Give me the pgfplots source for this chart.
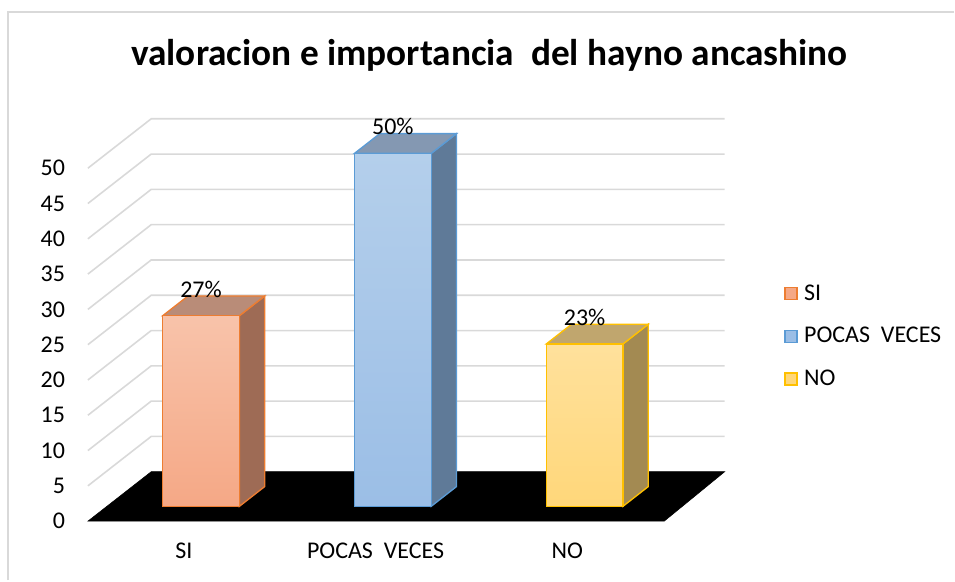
\documentclass[border=0pt]{standalone}
\usepackage{fontspec}
\setmainfont{Carlito}
\usepackage{pgfplots}
\pgfplotsset{compat=1.18}

\definecolor{gridc}{HTML}{D9D9D9}
\definecolor{siedge}{HTML}{ED7D31}
\definecolor{sitop}{HTML}{F8C3AA}
\definecolor{sibot}{HTML}{F5A886}
\definecolor{siside}{HTML}{9E6B55}
\definecolor{sicap}{HTML}{B98C78}
\definecolor{poedge}{HTML}{5B9BD5}
\definecolor{potop}{HTML}{B4CFEB}
\definecolor{pobot}{HTML}{9BBEE6}
\definecolor{poside}{HTML}{5F7A98}
\definecolor{pocap}{HTML}{8498B2}
\definecolor{noedge}{HTML}{FFC000}
\definecolor{notop}{HTML}{FFE19C}
\definecolor{nobot}{HTML}{FFD77A}
\definecolor{noside}{HTML}{A38A52}
\definecolor{nocap}{HTML}{C0A66E}

\begin{document}
\begin{tikzpicture}
\begin{axis}[
    x=144pt, y=5.30pt,
    xmin=0, xmax=3.32, ymin=0, ymax=57,
    clip=false,
    axis x line*=bottom, axis y line*=left,
    axis line style={draw=none},
    major tick length=0pt,
    ytick={0,5,...,50},
    xtick={0.5,1.5,2.5},
    xticklabels={SI, POCAS~~VECES, NO},
    /pgf/number format/assume math mode=true,
    tick label style={font=\fontsize{18}{21}\selectfont},
    yticklabel style={anchor=east, inner sep=0pt, xshift=-17pt},
    xticklabel style={anchor=north, inner sep=0pt, yshift=-16pt},
    legend style={at={(axis cs:3.63,26.2)}, anchor=west, draw=none, fill=none,
        font=\fontsize{18}{21}\selectfont, row sep=15pt, inner sep=0pt},
    legend cell align=left,
]
% frame and page extent
\path (axis cs:-0.4583,-8.345) rectangle (axis cs:4.516,73.83);
\draw[gridc, line width=1.5pt] (axis cs:-0.4167,-8.345) -- (axis cs:-0.4167,72.1) -- (axis cs:4.516,72.1);

% walls: gridlines (front label level -> back wall)
\pgfplotsinvokeforeach{5,10,...,50}{
  \draw[gridc, line width=1.2pt] (axis cs:0,#1) -- (axis cs:0.33,#1+7) -- (axis cs:3.32,#1+7);
}

% floor
\addplot[forget plot, fill=black, draw=black] coordinates {(0,0) (3.005,0) (3.32,7) (0.33,7)} -- cycle;

% SI = 27
\addplot[forget plot, fill=siside, draw=siedge, line width=1pt] coordinates {(0.79,2.1) (0.922,4.9) (0.922,31.9) (0.79,29.1)} -- cycle;
\addplot[forget plot, fill=sicap, draw=siedge, line width=1pt] coordinates {(0.39,29.1) (0.79,29.1) (0.922,31.9) (0.522,31.9)} -- cycle;
\addplot[forget plot, top color=sitop, bottom color=sibot, draw=siedge, line width=1pt] coordinates {(0.39,2.1) (0.79,2.1) (0.79,29.1) (0.39,29.1)} -- cycle;

% POCAS VECES = 50
\addplot[forget plot, fill=poside, draw=poedge, line width=1pt] coordinates {(1.79,2.1) (1.922,4.9) (1.922,54.9) (1.79,52.1)} -- cycle;
\addplot[forget plot, fill=pocap, draw=poedge, line width=1pt] coordinates {(1.39,52.1) (1.79,52.1) (1.922,54.9) (1.522,54.9)} -- cycle;
\addplot[forget plot, top color=potop, bottom color=pobot, draw=poedge, line width=1pt] coordinates {(1.39,2.1) (1.79,2.1) (1.79,52.1) (1.39,52.1)} -- cycle;

% NO = 23
\addplot[forget plot, fill=noside, draw=noedge, line width=1pt] coordinates {(2.79,2.1) (2.922,4.9) (2.922,27.9) (2.79,25.1)} -- cycle;
\addplot[forget plot, fill=nocap, draw=noedge, line width=1pt] coordinates {(2.39,25.1) (2.79,25.1) (2.922,27.9) (2.522,27.9)} -- cycle;
\addplot[forget plot, top color=notop, bottom color=nobot, draw=noedge, line width=1pt] coordinates {(2.39,2.1) (2.79,2.1) (2.79,25.1) (2.39,25.1)} -- cycle;

% data labels
\addplot[forget plot, only marks, mark=none, point meta=explicit symbolic,
    nodes near coords, nodes near coords style={anchor=base, yshift=14pt, inner sep=0pt,
    font=\fontsize{18}{21}\selectfont}]
  coordinates {(0.59,29.1) [27\%] (1.59,52.1) [50\%] (2.59,25.1) [23\%]};

% legend
\addlegendimage{legend image code/.code={\draw[fill=sibot, draw=siedge, line width=0.9pt] (0pt,-4.5pt) rectangle (9pt,4.5pt);}}
\addlegendentry{\hspace{3pt}SI}
\addlegendimage{legend image code/.code={\draw[fill=pobot, draw=poedge, line width=0.9pt] (0pt,-4.5pt) rectangle (9pt,4.5pt);}}
\addlegendentry{\hspace{3pt}POCAS~~VECES}
\addlegendimage{legend image code/.code={\draw[fill=nobot, draw=noedge, line width=0.9pt] (0pt,-4.5pt) rectangle (9pt,4.5pt);}}
\addlegendentry{\hspace{3pt}NO}

% title
\node[anchor=base, font=\fontsize{28}{32}\selectfont\bfseries] at (axis cs:2.094,64.6)
  {valoracion e importancia~~del hayno ancashino};
\end{axis}
\end{tikzpicture}
\end{document}
